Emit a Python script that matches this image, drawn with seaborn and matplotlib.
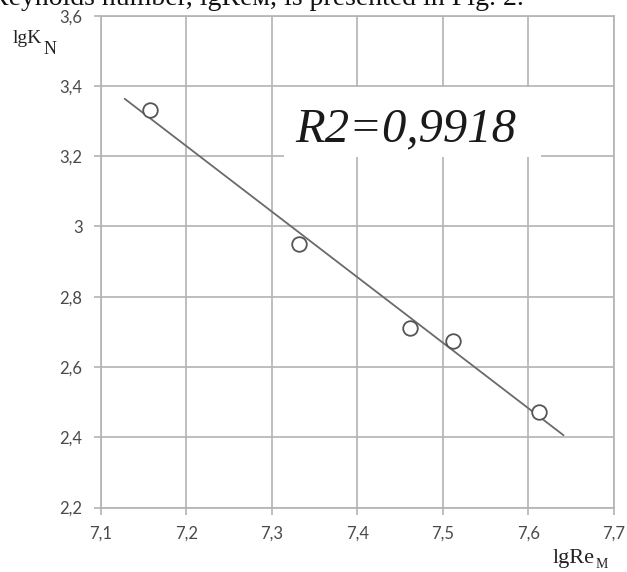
import numpy as np
import pandas as pd
import matplotlib
matplotlib.use("Agg")
import matplotlib.pyplot as plt
from matplotlib.patches import Rectangle
import seaborn as sns

# data
lg_re = [7.158, 7.332, 7.462, 7.512, 7.612]
lg_kn = [3.332, 2.949, 2.710, 2.675, 2.471]
trend_x_range = [7.128, 7.641]
x_ticks = [7.1, 7.2, 7.3, 7.4, 7.5, 7.6, 7.7]
x_tick_labels = ["7,1", "7,2", "7,3", "7,4", "7,5", "7,6", "7,7"]
y_ticks = [2.2, 2.4, 2.6, 2.8, 3.0, 3.2, 3.4, 3.6]
y_tick_labels = ["2,2", "2,4", "2,6", "2,8", "3", "3,2", "3,4", "3,6"]
r2_text = "R2=0,9918"

sns.set_theme(style="white")
plt.rcParams['font.family'] = ['Lato', 'DejaVu Sans']
serif = ["Liberation Serif", "DejaVu Serif"]

W, H = 627, 572
fig = plt.figure(figsize=(W / 100, H / 100), dpi=100)
ax = fig.add_axes([0.1606, 0.1126, 0.8187, 0.86])

grid_c = "#b3b3b3"
df = pd.DataFrame({"x": lg_re, "y": lg_kn})

# trend line (least squares fit of the points)
slope, intercept = np.polyfit(lg_re, lg_kn, 1)
tx = np.array(trend_x_range)
tdf = pd.DataFrame({"x": tx, "y": slope * tx + intercept})
sns.lineplot(data=tdf, x="x", y="y", ax=ax, color="#6a6a6a", linewidth=1.3, zorder=3)

sns.scatterplot(data=df, x="x", y="y", ax=ax, marker="o", s=110,
                facecolor="white", edgecolor="#555555", linewidth=1.3, zorder=4)

ax.set_xlim(7.1, 7.7)
ax.set_ylim(2.2, 3.6)
ax.set_xticks(x_ticks)
ax.set_xticklabels(x_tick_labels)
ax.set_yticks(y_ticks)
ax.set_yticklabels(y_tick_labels)
ax.grid(True, color=grid_c, linewidth=1.2)
ax.set_axisbelow(True)
for s in ax.spines.values():
    s.set_color(grid_c)
    s.set_linewidth(1.2)
ax.tick_params(axis="both", which="both", length=5, width=1.2, color=grid_c,
               labelcolor="#4a4a4a", labelsize=12, direction="out",
               left=True, bottom=True)
ax.tick_params(axis="y", pad=8)
ax.tick_params(axis="x", pad=8)
ax.set_xlabel("")
ax.set_ylabel("")

# white box behind R2 label
ax.add_patch(Rectangle((0.358, 0.712), 0.50, 0.142, transform=ax.transAxes,
                       facecolor="white", edgecolor="none", zorder=2.5))
ax.text(7.327, 3.241, r2_text, ha="left", va="baseline", fontsize=35,
        fontstyle="italic", family=serif, color="#1a1a1a", zorder=5)

def px(x, y):
    return x / W, 1 - y / H

# axis titles
fig.text(*px(13, 43), "lgK", fontsize=14, family=serif, color="#222222",
         ha="left", va="baseline")
fig.text(*px(44, 54), "N", fontsize=13, family=serif, color="#222222",
         ha="left", va="baseline")
fig.text(*px(553, 563), "lgRe", fontsize=16, family=serif, color="#222222",
         ha="left", va="baseline")
fig.text(*px(596, 568), "\u041c", fontsize=10, family=serif, color="#222222",
         ha="left", va="baseline")

# cut-off line of body text above the figure
fig.text(*px(-10, 5), "Reynolds number, lgRe\u043c, is presented in Fig. 2.", fontsize=20,
         family=serif, color="#111111", ha="left", va="baseline")

fig.savefig("out.png", dpi=100)
